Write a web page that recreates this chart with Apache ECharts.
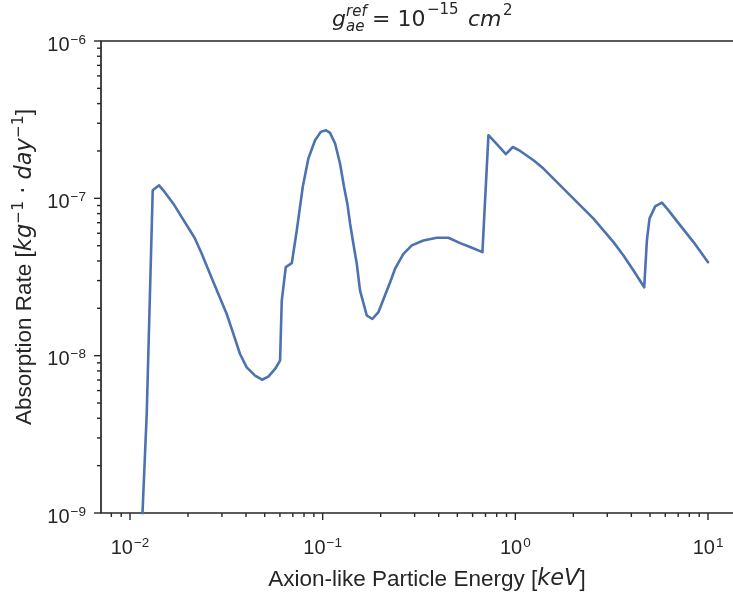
<!DOCTYPE html>
<html>
<head>
<meta charset="utf-8">
<script src="https://cdn.jsdelivr.net/npm/echarts@6/dist/echarts.min.js"></script>
<style>
  html, body { margin: 0; padding: 0; background: #ffffff; }
  #chart { width: 733px; height: 593px; }
</style>
</head>
<body>
<div id="chart"></div>
<script>
// ALP absorption rate versus particle energy
const energyKeV = [
  0.01152, 0.01221, 0.01312, 0.01415, 0.01489, 0.01679, 0.01855, 0.02049, 0.02175, 0.02357,
  0.02603, 0.02874, 0.03177, 0.03439, 0.03724, 0.04035, 0.04457, 0.04845, 0.05224, 0.05661,
  0.06009, 0.06133, 0.06433, 0.06913, 0.07336, 0.07880, 0.08427, 0.09131, 0.09775, 0.1041,
  0.1092, 0.1160, 0.1231, 0.1291, 0.1343, 0.1388, 0.1443, 0.1503, 0.1563, 0.1694,
  0.1811, 0.1946, 0.2239, 0.2376, 0.2624, 0.2902, 0.3333, 0.3913, 0.4494, 0.5169,
  0.5824, 0.6748, 0.7250, 0.8015, 0.8927, 0.9705, 1.059, 1.242, 1.399, 1.577,
  1.777, 2.002, 2.257, 2.544, 2.867, 3.231, 3.641, 4.105, 4.665, 4.817,
  4.970, 5.320, 5.765, 6.236, 7.174, 8.409, 10.0
];
const absorptionRate = [
  8.0e-10, 4.27e-9, 1.125e-7, 1.21e-7, 1.125e-7, 9.25e-8, 7.60e-8, 6.25e-8, 5.54e-8, 4.44e-8,
  3.31e-8, 2.47e-8, 1.84e-8, 1.374e-8, 1.025e-8, 8.42e-9, 7.46e-9, 7.03e-9, 7.35e-9, 8.23e-9,
  9.29e-9, 2.24e-8, 3.65e-8, 3.87e-8, 6.25e-8, 1.18e-7, 1.79e-7, 2.34e-7, 2.645e-7, 2.71e-7,
  2.605e-7, 2.23e-7, 1.66e-7, 1.18e-7, 9.25e-8, 6.90e-8, 5.15e-8, 3.84e-8, 2.59e-8, 1.80e-8,
  1.71e-8, 1.89e-8, 2.93e-8, 3.57e-8, 4.44e-8, 5.02e-8, 5.40e-8, 5.62e-8, 5.62e-8, 5.19e-8,
  4.90e-8, 4.55e-8, 2.52e-7, 2.21e-7, 1.91e-7, 2.12e-7, 2.00e-7, 1.746e-7, 1.546e-7, 1.335e-7,
  1.153e-7, 9.96e-8, 8.60e-8, 7.43e-8, 6.25e-8, 5.27e-8, 4.33e-8, 3.48e-8, 2.72e-8, 5.40e-8,
  7.43e-8, 8.89e-8, 9.39e-8, 8.39e-8, 6.73e-8, 5.27e-8, 3.93e-8
];

// axis ranges and tick positions
const xRange = [0.00707, 14.14];
const yRange = [1e-9, 1e-6];
const xDecades = [0.001, 0.01, 0.1, 1, 10];
const yDecades = [1e-9, 1e-8, 1e-7, 1e-6];
const minorSteps = [2, 3, 4, 5, 6, 7, 8, 9];

const INK = '#262626';
const LINE_BLUE = '#4C72B0';
const SANS = '"Liberation Sans", Arial, sans-serif';
const MATH = '"DejaVu Sans", sans-serif';

const inRange = (v, r) => v >= r[0] * 0.9999 && v <= r[1] * 1.0001;

const xTicks = [];
const yTicks = [];
xDecades.forEach(d => {
  if (inRange(d, xRange)) xTicks.push([d, yRange[0], 7]);
  minorSteps.forEach(m => { const v = d * m; if (inRange(v, xRange)) xTicks.push([v, yRange[0], 4]); });
});
yDecades.forEach(d => {
  if (inRange(d, yRange)) yTicks.push([xRange[0], d, 7]);
  minorSteps.forEach(m => { const v = d * m; if (inRange(v, yRange)) yTicks.push([xRange[0], v, 4]); });
});

function powerLabel(v) {
  const e = Math.log10(v);
  const r = Math.round(e);
  if (Math.abs(e - r) > 1e-6) return '';
  const exp = r < 0 ? '\u2212' + Math.abs(r) : String(r);
  return '{b|10}{s|' + exp + '}';
}

const tickRich = {
  b: { fontSize: 20, fontFamily: SANS, color: INK, lineHeight: 24 },
  s: { fontSize: 13.5, fontFamily: SANS, color: INK, lineHeight: 14, verticalAlign: 'top', padding: [0, 0, 0, 1] }
};

const chart = echarts.init(document.getElementById('chart'), null, { renderer: 'canvas' });

const energyData = energyKeV.map((e, i) => [e, absorptionRate[i]]);

function tickRenderer(horizontalAxis) {
  return function (params, api) {
    const len = api.value(2);
    if (horizontalAxis) {
      const p = api.coord([api.value(0), yRange[0]]);
      return { type: 'line', shape: { x1: p[0], y1: p[1], x2: p[0], y2: p[1] + len },
               style: { stroke: INK, lineWidth: 1.4 } };
    }
    const p = api.coord([xRange[0], api.value(1)]);
    return { type: 'line', shape: { x1: p[0], y1: p[1], x2: p[0] - len, y2: p[1] },
             style: { stroke: INK, lineWidth: 1.4 } };
  };
}

const option = {
  animation: false,
  backgroundColor: '#ffffff',
  grid: {
    left: 101, top: 41, width: 636, height: 472,
    outerBoundsMode: 'none', containLabel: false,
    show: true, borderColor: INK, borderWidth: 1.7, backgroundColor: 'transparent'
  },
  xAxis: {
    type: 'log', logBase: 10, min: xRange[0], max: xRange[1],
    axisLine: { show: false }, axisTick: { show: false }, splitLine: { show: false }, minorTick: { show: false },
    axisLabel: { margin: 23, formatter: powerLabel, rich: tickRich, showMinLabel: true, showMaxLabel: true },
    name: 'Axion-like Particle Energy [{i|keV}]',
    nameLocation: 'middle', nameGap: 55,
    nameTextStyle: {
      fontSize: 22.5, fontFamily: SANS, color: INK, padding: [0, 0, 0, 16],
      rich: { i: { fontSize: 22.5, fontFamily: MATH, fontStyle: 'italic', color: INK } }
    }
  },
  yAxis: {
    type: 'log', logBase: 10, min: yRange[0], max: yRange[1],
    axisLine: { show: false }, axisTick: { show: false }, splitLine: { show: false }, minorTick: { show: false },
    axisLabel: { margin: 15, formatter: powerLabel, rich: tickRich, padding: [8, 0, 0, 0] },
    name: 'Absorption Rate [{i|kg}{s|\u22121}{n| \u00b7 }{i|day}{s|\u22121}]',
    nameLocation: 'middle', nameGap: 62, nameRotate: 90,
    nameTextStyle: {
      fontSize: 22.5, fontFamily: SANS, color: INK, padding: [0, 0, 0, 20],
      rich: {
        i: { fontSize: 22.5, fontFamily: MATH, fontStyle: 'italic', color: INK, lineHeight: 28 },
        s: { fontSize: 15.5, fontFamily: MATH, color: INK, verticalAlign: 'top', lineHeight: 15 },
        n: { fontSize: 22.5, fontFamily: MATH, color: INK }
      }
    }
  },
  graphic: [{
    type: 'group', x: 332, y: 7,
    children: [
      { type: 'text', x: 0, y: 2, style: { text: 'g', font: 'italic 22px ' + MATH, fill: INK } },
      { type: 'text', x: 14, y: -2, style: { text: 'ref', font: 'italic 15px ' + MATH, fill: INK } },
      { type: 'text', x: 14, y: 13, style: { text: 'ae', font: 'italic 15px ' + MATH, fill: INK } },
      { type: 'text', x: 40, y: 2, style: { text: '= 10', font: '22px ' + MATH, fill: INK } },
      { type: 'text', x: 95, y: -4, style: { text: '\u221215', font: '15px ' + MATH, fill: INK } },
      { type: 'text', x: 136, y: 2, style: { text: 'cm', font: 'italic 22px ' + MATH, fill: INK } },
      { type: 'text', x: 171, y: -3, style: { text: '2', font: '15px ' + MATH, fill: INK } }
    ]
  }],
  series: [
    {
      type: 'line', data: energyData, showSymbol: false, symbol: 'none', clip: true, z: 3,
      lineStyle: { color: LINE_BLUE, width: 2.6, join: 'round', cap: 'round' }
    },
    { type: 'custom', data: xTicks, renderItem: tickRenderer(true), silent: true, clip: false, z: 4 },
    { type: 'custom', data: yTicks, renderItem: tickRenderer(false), silent: true, clip: false, z: 4 }
  ]
};

chart.setOption(option);
</script>
</body>
</html>
